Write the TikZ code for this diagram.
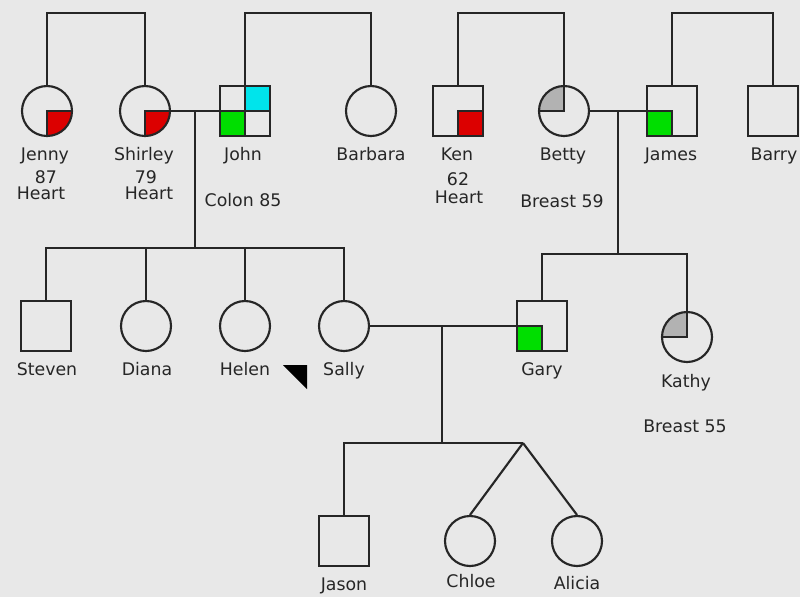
\documentclass[tikz,border=0pt]{standalone}
\usepackage{fontspec}
\setmainfont{DejaVu Sans}
\definecolor{bg}{RGB}{232,232,232}
\definecolor{ink}{RGB}{38,38,38}
\definecolor{heartc}{RGB}{220,0,0}
\definecolor{colonc}{RGB}{0,222,0}
\definecolor{otherc}{RGB}{0,228,235}
\definecolor{breastc}{RGB}{178,178,178}
\tikzset{
  pline/.style={draw=ink,line width=1.6pt},
  person/.style={pline,fill=bg,inner sep=0pt,minimum size=37.5pt},
  female/.style={person,circle},
  male/.style={person,rectangle},
  qbr/.style={path picture={\draw[pline,fill=#1] (path picture bounding box.center) rectangle (path picture bounding box.south east);}},
  qbl/.style={path picture={\draw[pline,fill=#1] (path picture bounding box.center) rectangle (path picture bounding box.south west);}},
  qtl/.style={path picture={\draw[pline,fill=#1] (path picture bounding box.center) rectangle (path picture bounding box.north west);}},
  nm/.style={anchor=base,text=ink,inner sep=0pt,font=\fontsize{13}{15}\selectfont},
}
\begin{document}
\begin{tikzpicture}[x=0.75pt,y=-0.75pt]
\fill[bg] (0,0) rectangle (800,597);
\useasboundingbox (0,0) rectangle (800,597);

% generation I
\node[female,qbr=heartc] (jenny)   at (47,111) {};
\node[female,qbr=heartc] (shirley) at (145,111) {};
\node[male,path picture={
    \fill[colonc] (path picture bounding box.center) rectangle (path picture bounding box.south west);
    \fill[otherc] (path picture bounding box.center) rectangle (path picture bounding box.north east);
    \draw[pline] (path picture bounding box.north) -- (path picture bounding box.south)
                 (path picture bounding box.west) -- (path picture bounding box.east);}] (john) at (245,111) {};
\node[female] (barbara) at (371,111) {};
\node[male,qbr=heartc]   (ken)   at (458,111) {};
\node[female,qtl=breastc] (betty) at (564,111) {};
\node[male,qbl=colonc]   (james) at (672,111) {};
\node[male]              (barry) at (773,111) {};

% generation II
\node[male]   (steven) at (46,326) {};
\node[female] (diana)  at (146,326) {};
\node[female] (helen)  at (245,326) {};
\node[female] (sally)  at (344,326) {};
\node[male,qbl=colonc]    (gary)  at (542,326) {};
\node[female,qtl=breastc] (kathy) at (687,337) {};

% generation III
\node[male]   (jason)  at (344,541) {};
\node[female] (chloe)  at (470,541) {};
\node[female] (alicia) at (577,541) {};

% sibship bars of the parents' generation
\coordinate (t1) at (95,13);
\coordinate (t2) at (308,13);
\coordinate (t3) at (510,13);
\coordinate (t4) at (722,13);
\draw[pline] (jenny.north) |- (t1) -| (shirley.north);
\draw[pline] (john.north) |- (t2) -| (barbara.north);
\draw[pline] (ken.north) |- (t3) -| (betty.north);
\draw[pline] (james.north) |- (t4) -| (barry.north);

% marriages and descent
\draw[pline] (shirley) -- (john);
\draw[pline] (betty) -- (james);
\draw[pline] (sally) -- (gary);

\coordinate (m1) at (195,111);
\coordinate (s1) at (195,248);
\draw[pline] (m1) -- (s1);
\draw[pline] (steven.north) |- (s1) -| (sally.north);
\draw[pline] (diana.north) -- (diana.north |- s1);
\draw[pline] (helen.north) -- (helen.north |- s1);

\coordinate (m2) at (618,111);
\coordinate (s2) at (618,254);
\draw[pline] (m2) -- (s2);
\draw[pline] (gary.north) |- (s2) -| (kathy.north);

\coordinate (m3) at (442,326);
\coordinate (s3) at (442,443);
\coordinate (tw) at (523,443);
\draw[pline] (m3) -- (s3);
\draw[pline] (jason.north) |- (s3) -- (tw);
\draw[pline] (tw) -- (chloe.north);
\draw[pline] (tw) -- (alicia.north);

% proband marker
\fill[black] (283,365) -- (307,365) -- (307,389) -- cycle;

% names and notes
\node[nm] (jennyn)   at (45,160)  {Jenny};
\node[nm] (jennya)   at (46,183)  {87};
\node[nm] (jennyc)   at (41,199)  {Heart};
\node[nm] (shirleyn) at (144,160) {Shirley};
\node[nm] (shirleya) at (146,183) {79};
\node[nm] (shirleyc) at (149,199) {Heart};
\node[nm] (johnn)    at (243,160) {John};
\node[nm] (johnc)    at (243,206) {Colon 85};
\node[nm] (barbaran) at (371,160) {Barbara};
\node[nm] (kenn)     at (457,160) {Ken};
\node[nm] (kena)     at (458,185) {62};
\node[nm] (kenc)     at (459,203) {Heart};
\node[nm] (bettyn)   at (563,160) {Betty};
\node[nm] (bettyc)   at (562,207) {Breast 59};
\node[nm] (jamesn)   at (671,160) {James};
\node[nm] (barryn)   at (774,160) {Barry};

\node[nm] (stevenn)  at (47,375)  {Steven};
\node[nm] (dianan)   at (147,375) {Diana};
\node[nm] (helenn)   at (245,375) {Helen};
\node[nm] (sallyn)   at (344,375) {Sally};
\node[nm] (garyn)    at (542,375) {Gary};
\node[nm] (kathyn)   at (686,387) {Kathy};
\node[nm] (kathyc)   at (685,432) {Breast 55};

\node[nm] (jasonn)   at (344,590) {Jason};
\node[nm] (chloen)   at (471,587) {Chloe};
\node[nm] (alician)  at (577,589) {Alicia};
\end{tikzpicture}
\end{document}
